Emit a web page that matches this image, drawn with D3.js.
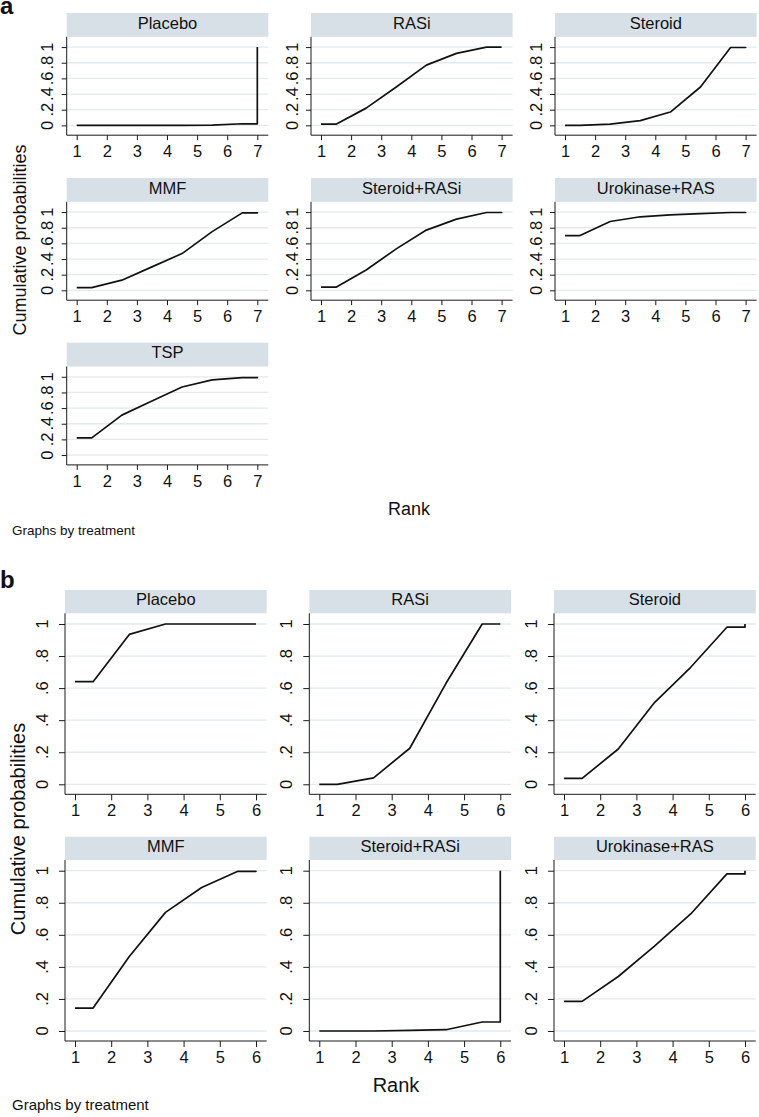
<!DOCTYPE html>
<html><head><meta charset="utf-8">
<script src="https://cdn.jsdelivr.net/npm/d3@7"></script>
<style>
body{margin:0;background:#fff;}
svg{display:block;font-family:Arial,"Liberation Sans",sans-serif;}
</style>
</head><body>
<svg id="chart" width="759" height="1117"></svg>
<script>
// ---------------- DATA ----------------
// Panel a: 7 treatments, ranks 1..7 (cumulative probability of being at rank <= k)
const ranksA = [1, 2, 3, 4, 5, 6, 7];
const treatmentsA = ["Placebo", "RASi", "Steroid", "MMF", "Steroid+RASi", "Urokinase+RAS", "TSP"];
const cumPlaceboA    = [0.000, 0.000, 0.000, 0.000, 0.003, 0.020, 1.000];
const cumRASiA       = [0.015, 0.220, 0.490, 0.770, 0.920, 1.000, 1.000];
const cumSteroidA    = [0.000, 0.015, 0.060, 0.170, 0.490, 0.995, 1.000];
const cumMMFA        = [0.035, 0.130, 0.300, 0.470, 0.750, 0.990, 1.000];
const cumSteroidRASiA= [0.040, 0.260, 0.530, 0.770, 0.910, 0.995, 1.000];
const cumUrokinaseA  = [0.700, 0.880, 0.940, 0.965, 0.980, 0.995, 1.000];
const cumTSPA        = [0.220, 0.510, 0.690, 0.870, 0.960, 0.990, 1.000];

// Panel b: 6 treatments, ranks 1..6
const ranksB = [1, 2, 3, 4, 5, 6];
const treatmentsB = ["Placebo", "RASi", "Steroid", "MMF", "Steroid+RASi", "Urokinase+RAS"];
const cumPlaceboB    = [0.640, 0.935, 1.000, 1.000, 1.000, 1.000];
const cumRASiB       = [0.000, 0.040, 0.225, 0.630, 1.000, 1.000];
const cumSteroidB    = [0.037, 0.220, 0.510, 0.730, 0.980, 1.000];
const cumMMFB        = [0.143, 0.465, 0.740, 0.895, 0.996, 1.000];
const cumSteroidRASiB= [0.000, 0.000, 0.004, 0.008, 0.056, 1.000];
const cumUrokinaseB  = [0.185, 0.340, 0.530, 0.730, 0.980, 1.000];

const yTicks = [0, 0.2, 0.4, 0.6, 0.8, 1];
const yTickLabels = ["0", ".2", ".4", ".6", ".8", "1"];
const yTitle = "Cumulative probabilities";
const xTitle = "Rank";
const noteText = "Graphs by treatment";

// ---------------- DRAWING ----------------
const svg = d3.select("#chart");
const HEADER_FILL = "#d7e0e7";
const GRID = "#e3eaef";
const AXIS = "#1a1a1a";
const LINE = "#111";

// Stata-style rank plot points: (1,c1),(1.5,c1),(2.5,c2)...,(K-0.5,c_{K-1}),(K,c_{K-1}),(K,c_K)
function rankPoints(vals) {
  const K = vals.length;
  const pts = [[1, vals[0]], [1.5, vals[0]]];
  for (let k = 1; k <= K - 2; k++) pts.push([k + 1.5, vals[k]]);
  pts.push([K, vals[K - 2]]);
  pts.push([K, vals[K - 1]]);
  return pts;
}

function drawPanel(cfg) {
  const g = svg.append("g");
  cfg.series.forEach((s, i) => {
    const col = i % 3, row = Math.floor(i / 3);
    const left = cfg.lefts[col], width = cfg.plotW;
    const hTop = cfg.headerTops[row];
    const pTop = hTop + cfg.headerH;
    const pBot = pTop + cfg.plotH;
    const x = d3.scaleLinear().domain(cfg.xDomain).range([left, left + width]);
    const y = d3.scaleLinear().domain(cfg.yDomain).range([pBot, pTop]);
    const p = g.append("g");
    // header strip
    p.append("rect").attr("x", left).attr("y", hTop).attr("width", width).attr("height", cfg.headerH)
      .attr("fill", HEADER_FILL);
    p.append("text").attr("x", left + width / 2).attr("y", hTop + cfg.headerBase)
      .attr("text-anchor", "middle").attr("font-size", cfg.headerFont).attr("fill", "#111")
      .text(s.name);
    // grid lines
    p.selectAll("line.grid").data(yTicks).enter().append("line")
      .attr("x1", left).attr("x2", left + width)
      .attr("y1", d => y(d)).attr("y2", d => y(d))
      .attr("stroke", GRID).attr("stroke-width", 1.3);
    // y axis
    const yAxis = d3.axisLeft(y).tickValues(yTicks).tickSize(cfg.tickLen).tickFormat("");
    const ya = p.append("g").attr("transform", `translate(${left},0)`).call(yAxis);
    ya.select(".domain").attr("d", `M-0,${pTop}V${pBot}`).attr("stroke", AXIS);
    ya.selectAll(".tick line").attr("stroke", AXIS);
    p.selectAll("text.ylab").data(yTicks).enter().append("text")
      .attr("transform", (d, j) => `translate(${left - cfg.yLabOff},${y(d)}) rotate(-90)`)
      .attr("text-anchor", "middle").attr("font-size", cfg.tickFont).attr("fill", "#111")
      .text((d, j) => yTickLabels[j]);
    // x axis
    const xAxis = d3.axisBottom(x).tickValues(s.ranks).tickSize(cfg.tickLen).tickPadding(cfg.xLabPad)
      .tickFormat(d3.format("d"));
    const xa = p.append("g").attr("transform", `translate(0,${pBot})`).call(xAxis);
    xa.select(".domain").attr("d", `M${left},0H${left + width}`).attr("stroke", AXIS);
    xa.selectAll(".tick line").attr("stroke", AXIS);
    xa.selectAll(".tick text").attr("font-size", cfg.tickFont).attr("fill", "#111")
      .attr("font-family", "Arial,'Liberation Sans',sans-serif");
    // curve
    const line = d3.line().x(d => x(d[0])).y(d => y(d[1]));
    p.append("path").attr("d", line(rankPoints(s.values)))
      .attr("fill", "none").attr("stroke", LINE).attr("stroke-width", 1.7)
      .attr("stroke-linejoin", "round");
  });
  // panel letter
  svg.append("text").attr("x", 0).attr("y", cfg.letterY).attr("font-size", 24).attr("font-weight", "bold")
    .attr("fill", "#111").text(cfg.letter);
  // y title
  svg.append("text").attr("transform", `translate(${cfg.yTitleX},${cfg.yTitleY}) rotate(-90)`)
    .attr("text-anchor", "middle").attr("font-size", cfg.titleFont).attr("fill", "#111").text(yTitle);
  // x title
  svg.append("text").attr("x", cfg.xTitleX).attr("y", cfg.xTitleY).attr("text-anchor", "middle")
    .attr("font-size", cfg.titleFont).attr("fill", "#111").text(xTitle);
  // note
  svg.append("text").attr("x", 12).attr("y", cfg.noteY).attr("font-size", cfg.noteFont)
    .attr("fill", "#111").text(noteText);
}

const seriesA = [cumPlaceboA, cumRASiA, cumSteroidA, cumMMFA, cumSteroidRASiA, cumUrokinaseA, cumTSPA]
  .map((v, i) => ({ name: treatmentsA[i], values: v, ranks: ranksA }));
const seriesB = [cumPlaceboB, cumRASiB, cumSteroidB, cumMMFB, cumSteroidRASiB, cumUrokinaseB]
  .map((v, i) => ({ name: treatmentsB[i], values: v, ranks: ranksB }));

drawPanel({
  series: seriesA, letter: "a", letterY: 14,
  lefts: [66.7, 311, 555], plotW: 201.6,
  headerTops: [13, 178, 342.7], headerH: 23.8, headerBase: 15.5, headerFont: 16.5,
  plotH: 98.4,
  xDomain: [0.668, 7.365], yDomain: [-0.126, 1.1315],
  tickLen: 5, yLabOff: 13.5, xLabPad: 5, tickFont: 16.5,
  yTitleX: 26, yTitleY: 240, xTitleX: 409, xTitleY: 515, titleFont: 18,
  noteY: 535, noteFont: 13.5
});

drawPanel({
  series: seriesB, letter: "b", letterY: 588,
  lefts: [65, 309.3, 554], plotW: 201.7,
  headerTops: [590, 836.7], headerH: 23.3, headerBase: 15, headerFont: 16.5,
  plotH: 181,
  xDomain: [0.724, 6.296], yDomain: [-0.0624, 1.0667],
  tickLen: 6, yLabOff: 17, xLabPad: 4, tickFont: 16.5,
  yTitleX: 25, yTitleY: 829, xTitleX: 396, xTitleY: 1092, titleFont: 20,
  noteY: 1110, noteFont: 15
});
</script>
</body></html>
